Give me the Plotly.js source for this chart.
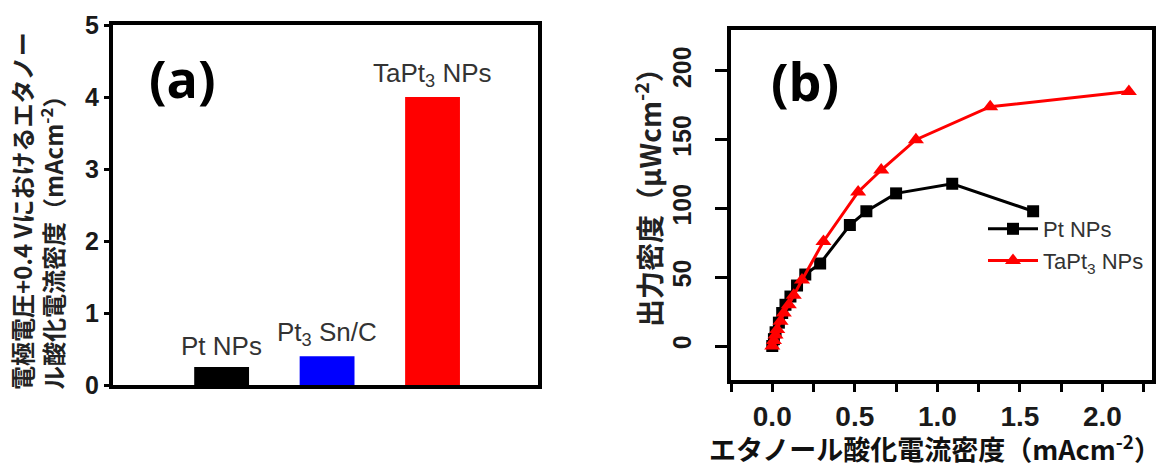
<!DOCTYPE html>
<html>
<head>
<meta charset="utf-8">
<script src="https://cdn.plot.ly/plotly-3.0.1.min.js"></script>
<style>html,body{margin:0;padding:0;background:#fff;}#chart{width:1172px;height:468px;}</style>
</head>
<body>
<div id="chart"></div>
<script>
// ---- Panel (a) data ----
const barCategories = ["Pt NPs", "Pt<sub>3</sub> Sn/C", "TaPt<sub>3</sub> NPs"];
const barValues = [0.25, 0.40, 4.0];
const barColors = ["#000000", "#0000ff", "#ff0000"];
const barTickValsY = [0, 1, 2, 3, 4, 5];

// ---- Panel (b) data ----
const ptX = [0, 0.01, 0.02, 0.04, 0.06, 0.08, 0.11, 0.15, 0.20, 0.29, 0.47, 0.57, 0.75, 1.09, 1.58];
const ptY = [0, 5, 10, 17, 24, 30, 36, 44, 52, 60, 88, 98, 111, 118, 98];
const taX = [0, 0.01, 0.02, 0.03, 0.05, 0.07, 0.10, 0.13, 0.18, 0.31, 0.52, 0.66, 0.87, 1.32, 2.16];
const taY = [0, 4, 8, 12, 18, 24, 30, 37, 48, 76, 112, 128, 150, 174, 185];
const xTickVals = [0, 0.5, 1.0, 1.5, 2.0];
const xTickText = ["0.0", "0.5", "1.0", "1.5", "2.0"];
const yTickVals = [0, 50, 100, 150, 200];

const W = 1172, H = 468;
const px = v => v / W, py = v => 1 - v / H;

const narrow = "Liberation Sans Narrow, Liberation Sans, Arial, sans-serif";
const jp = "Noto Sans CJK JP, sans-serif";

const barIdx = barCategories.map((c, i) => i);

const traces = [
  {
    type: "bar", x: barIdx, y: barValues, width: 0.52,
    marker: {color: barColors, line: {width: 0}},
    xaxis: "x", yaxis: "y", showlegend: false, hoverinfo: "skip"
  },
  {
    type: "scatter", mode: "lines+markers", name: "Pt NPs",
    x: ptX, y: ptY, xaxis: "x2", yaxis: "y2",
    line: {color: "#000000", width: 3},
    marker: {symbol: "square", size: 12, color: "#000000"}
  },
  {
    type: "scatter", mode: "lines+markers", name: "TaPt<sub>3</sub> NPs",
    x: taX, y: taY, xaxis: "x2", yaxis: "y2",
    line: {color: "#ff0000", width: 3},
    marker: {symbol: "triangle-up", size: 14, color: "#ff0000"}
  }
];

const annotations = barCategories.map((c, i) => ({
  x: i, y: barValues[i], xref: "x", yref: "y",
  text: c, showarrow: false, yanchor: "bottom", yshift: 4,
  font: {family: narrow, size: 26, color: "#333333"}
}));

annotations.push(
  {x: px(182), y: py(78), xref: "paper", yref: "paper", xanchor: "center", yanchor: "middle",
   text: "(a)", showarrow: false,
   font: {family: "Open Sans, sans-serif", size: 52, color: "#000", weight: "bold"}},
  {x: px(805), y: py(80), xref: "paper", yref: "paper", xanchor: "center", yanchor: "middle",
   text: "(b)", showarrow: false,
   font: {family: "Open Sans, sans-serif", size: 52, color: "#000", weight: "bold"}},
  {x: px(37), y: py(392), xref: "paper", yref: "paper", xanchor: "center", yanchor: "bottom",
   textangle: -90, align: "left", showarrow: false,
   text: "電極電圧+0.4 Vにおけるエタノー<br>ル酸化電流密度（mAcm<sup>-2</sup>）",
   font: {family: jp, size: 24, color: "#222", weight: "bold"}},
  {x: px(647), y: py(191), xref: "paper", yref: "paper", xanchor: "center", yanchor: "middle",
   textangle: -90, showarrow: false,
   text: "出力密度（μWcm<sup>-2</sup>）",
   font: {family: jp, size: 28, color: "#222", weight: "bold"}},
  {x: px(935), y: py(447), xref: "paper", yref: "paper", xanchor: "center", yanchor: "middle",
   showarrow: false,
   text: "エタノール酸化電流密度（mAcm<sup>-2</sup>）",
   font: {family: jp, size: 27, color: "#111", weight: "bold"}}
);

const layout = {
  width: W, height: H,
  margin: {l: 0, r: 0, t: 0, b: 0},
  paper_bgcolor: "#fff", plot_bgcolor: "#fff",
  showlegend: true,
  legend: {x: px(983), y: py(208), xanchor: "left", yanchor: "top",
           font: {family: narrow, size: 22, color: "#333"},
           bgcolor: "rgba(0,0,0,0)", itemwidth: 50, tracegroupgap: 0},
  xaxis: {
    domain: [px(113), px(538)], range: [-1.03, 3.0],
    showline: true, mirror: true, linewidth: 4, linecolor: "#000",
    showticklabels: false, ticks: "", showgrid: false, zeroline: false, fixedrange: true
  },
  yaxis: {
    domain: [py(385), py(25)], range: [0, 5],
    tickvals: barTickValsY, ticks: "outside", ticklen: 5, tickwidth: 3, tickcolor: "#000",
    showline: true, mirror: true, linewidth: 4, linecolor: "#000",
    tickfont: {family: "Liberation Sans, Arial, sans-serif", size: 25, color: "#1a1a1a", weight: "bold"},
    showgrid: false, zeroline: false, fixedrange: true
  },
  xaxis2: {
    anchor: "y2",
    domain: [px(731), px(1152)], range: [-0.25, 2.3],
    tickvals: xTickVals, ticktext: xTickText,
    ticks: "outside", ticklen: 8, tickwidth: 3, tickcolor: "#000",
    minor: {dtick: 0.25, tick0: 0, ticks: "outside", ticklen: 8, tickwidth: 3, tickcolor: "#000"},
    showline: true, mirror: true, linewidth: 4, linecolor: "#000",
    tickfont: {family: narrow, size: 28, color: "#1a1a1a", weight: "bold"},
    showgrid: false, zeroline: false, fixedrange: true
  },
  yaxis2: {
    anchor: "x2",
    domain: [py(380), py(30)], range: [-24.7, 229.8],
    tickvals: yTickVals, tickangle: -90,
    ticks: "outside", ticklen: 12, tickwidth: 3, tickcolor: "#000", ticklabelstandoff: 14,
    showline: true, mirror: true, linewidth: 4, linecolor: "#000",
    tickfont: {family: narrow, size: 25, color: "#1a1a1a", weight: "bold"},
    showgrid: false, zeroline: false, fixedrange: true
  },
  annotations: annotations
};

Plotly.newPlot("chart", traces, layout, {staticPlot: true, displayModeBar: false});
</script>
</body>
</html>
